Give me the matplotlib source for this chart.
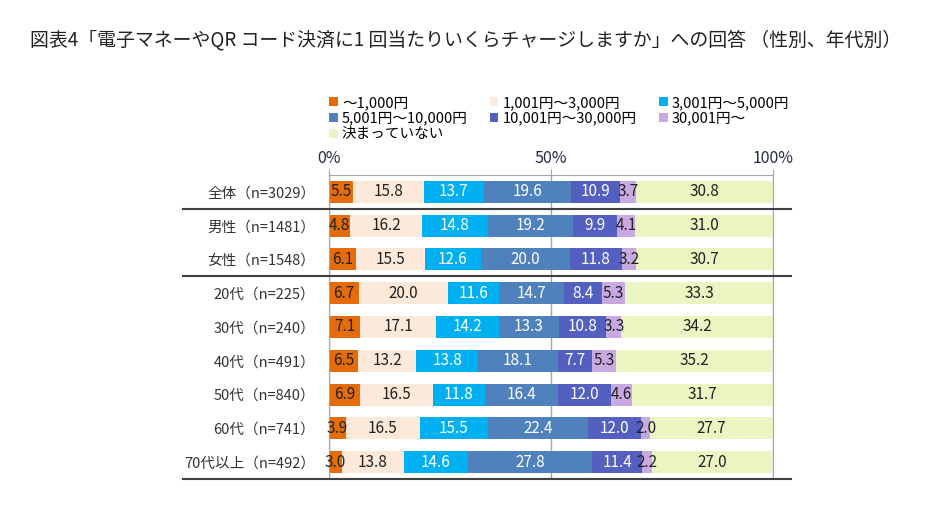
import numpy as np
import matplotlib.pyplot as plt
from matplotlib.patches import Patch

plt.rcParams['font.family'] = ['Noto Sans CJK JP', 'DejaVu Sans']

groups = ['全体（n=3029）', '男性（n=1481）', '女性（n=1548）',
          '20代（n=225）', '30代（n=240）', '40代（n=491）',
          '50代（n=840）', '60代（n=741）', '70代以上（n=492）']
categories = ['～1,000円', '1,001円～3,000円', '3,001円～5,000円',
              '5,001円～10,000円', '10,001円～30,000円', '30,001円～',
              '決まっていない']

v_upto1000 = [5.5, 4.8, 6.1, 6.7, 7.1, 6.5, 6.9, 3.9, 3.0]
v_1001_3000 = [15.8, 16.2, 15.5, 20.0, 17.1, 13.2, 16.5, 16.5, 13.8]
v_3001_5000 = [13.7, 14.8, 12.6, 11.6, 14.2, 13.8, 11.8, 15.5, 14.6]
v_5001_10000 = [19.6, 19.2, 20.0, 14.7, 13.3, 18.1, 16.4, 22.4, 27.8]
v_10001_30000 = [10.9, 9.9, 11.8, 8.4, 10.8, 7.7, 12.0, 12.0, 11.4]
v_30001 = [3.7, 4.1, 3.2, 5.3, 3.3, 5.3, 4.6, 2.0, 2.2]
v_undecided = [30.8, 31.0, 30.7, 33.3, 34.2, 35.2, 31.7, 27.7, 27.0]

series = [v_upto1000, v_1001_3000, v_3001_5000, v_5001_10000,
          v_10001_30000, v_30001, v_undecided]
colors = ['#E46C0A', '#FDE9D9', '#00B0F0', '#4F81BD', '#5360C0', '#C9A9E2', '#EAF5C1']
text_colors = ['#222222', '#222222', 'white', 'white', 'white', '#222222', '#222222']

fig = plt.figure(figsize=(9.34, 5.27), dpi=100)
ax = fig.add_axes([0.3522, 0.0911, 0.4754, 0.5769])

y = np.arange(len(groups))
left = np.zeros(len(groups))
for vals, c, tc in zip(series, colors, text_colors):
    vals = np.array(vals)
    bars = ax.barh(y, vals, left=left, height=0.65, color=c, zorder=2)
    ax.bar_label(bars, labels=[f'{v:.1f}' for v in vals], label_type='center',
                 color=tc, fontsize=11)
    left += vals

ax.set_xlim(0, 100)
ax.set_ylim(len(groups) - 0.5, -0.5)
ax.set_xticks([0, 50, 100])
ax.set_xticklabels(['0%', '50%', '100%'])
ax.xaxis.tick_top()
ax.tick_params(axis='x', length=4, color='#A6A6A6', labelsize=11.5,
               labelcolor='#1F2A44', pad=2)
ax.tick_params(axis='y', length=0, labelsize=10.5, labelcolor='#333333', pad=10)
ax.set_yticks(y)
ax.set_yticklabels(groups)
ax.grid(axis='x', color='#A6A6A6', linewidth=1, zorder=1)
for s in ['left', 'right', 'top']:
    ax.spines[s].set_color('#A6A6A6')
ax.spines['bottom'].set_visible(False)

# separators between total / gender / age blocks, and bottom rule
trans = ax.get_yaxis_transform()
for yy in [0.5, 2.5, 8.5]:
    ax.plot([-0.329, 1.04], [yy, yy], transform=trans, color='#404040',
            linewidth=1.5, clip_on=False, zorder=3)

handles = [Patch(facecolor=c, edgecolor='none') for c in colors]
order = [0, 3, 6, 1, 4, 2, 5]
fig.legend([handles[i] for i in order], [categories[i] for i in order],
           loc='upper left', bbox_to_anchor=(0.352, 0.818), ncol=3,
           frameon=False, fontsize=10.5, handlelength=0.6, handleheight=0.6,
           handletextpad=0.3, columnspacing=1.5, labelspacing=0.12,
           borderpad=0, borderaxespad=0)

fig.text(0.032, 0.925, '図表4「電子マネーやQR コード決済に1 回当たりいくらチャージしますか」への回答 （性別、年代別）',
         fontsize=13.6, color='#222222', va='center')

fig.savefig('out.png', dpi=100)
